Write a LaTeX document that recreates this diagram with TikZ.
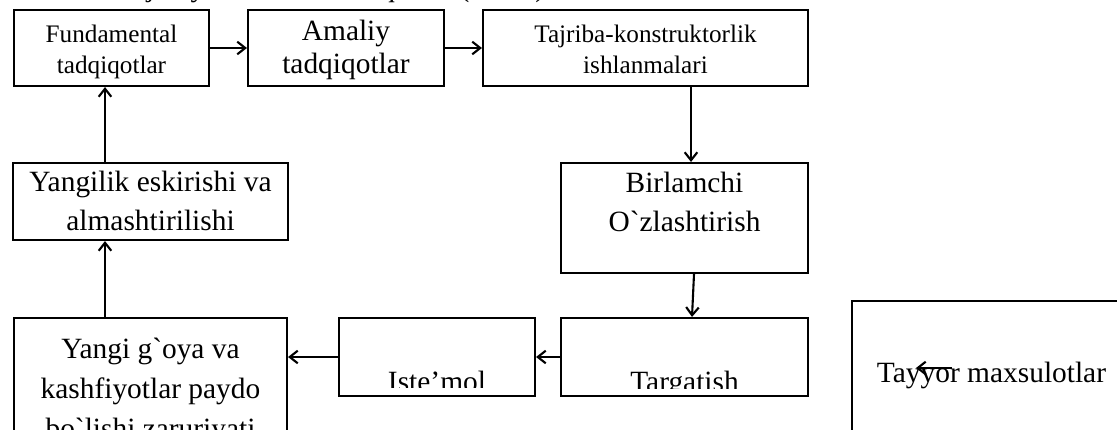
\documentclass[tikz,border=0pt]{standalone}
\usepackage{fontspec}
\setmainfont{Liberation Serif}[Ligatures=TeXOff]
\usetikzlibrary{arrows.meta,calc,fit}

\tikzset{
  box/.style={draw, line width=1pt, inner sep=0pt},
  bigtxt/.style={font=\fontsize{14}{18.5}\selectfont, align=center, inner sep=0pt, anchor=base},
  smalltxt/.style={font=\fontsize{12}{14.5}\selectfont, align=center, inner sep=0pt, anchor=base},
  link/.style={line width=1pt, -{Straight Barb[length=3.8pt,width=6pt]}},
}

\begin{document}
\begin{tikzpicture}[x=0.476pt,y=-0.476pt]
			%%%%% START %%%%%
			\useasboundingbox (0,0) rectangle (1117,429);
			\clip (0,0) rectangle (1117,429);
			
			% cut-off heading line
			\node[font=\fontsize{14}{18.5}\selectfont, inner sep=0pt, anchor=base west] (head) at (0,-3) {Innovatsion jarayonni ko`rib chiqamiz (2 ball)};
			
			% top row (text anchored at the last line)
			\node[box, fit={(14,10) (209,86)}] (fund) {};
			\node[smalltxt] (fundtxt) at (111.5,73) {Fundamental\\tadqiqotlar};
			
			\node[box, fit={(248,10) (444,86)}] (amal) {};
			\node[bigtxt, font=\fontsize{14}{15.7}\selectfont] (amaltxt) at (346,73) {Amaliy\\tadqiqotlar};
			
			\node[box, fit={(483,10) (808,86)}] (tajr) {};
			\node[smalltxt] (tajrtxt) at (645.5,73) {Tajriba-konstruktorlik\\ishlanmalari};
			
			% right column
			\node[box, fit={(561,163) (808,273)}] (birl) {};
			\node[bigtxt] (birltxt) at (684.5,231) {Birlamchi\\O`zlashtirish};
			
			\node[box, fit={(561,318) (808,396)}] (targ) {};
			\begin{scope}
				\clip (561,318) rectangle (808,388);
				\node[bigtxt] (targtxt) at (684.5,391) {Targatish};
			\end{scope}
			
			% bottom row
			\node[box, fit={(339,318) (535,396)}] (iste) {};
			\begin{scope}
				\clip (339,318) rectangle (535,387);
				\node[bigtxt] (istetxt) at (437,391) {Iste’mol};
			\end{scope}
			
			\node[box, fit={(14,318) (287,470)}] (yang) {};
			\node[bigtxt, font=\fontsize{14}{19}\selectfont] (yangtxt) at (150.5,438) {Yangi g`oya va\\kashfiyotlar paydo\\bo`lishi zaruriyati};
			
			% left column
			\node[box, fit={(13,163) (288,240)}] (yeni) {};
			\node[bigtxt] (yenitxt) at (150.5,230) {Yangilik eskirishi va\\almashtirilishi};
			
			% separate box
			\node[box, fit={(852,301) (1131,470)}] (tayy) {};
			\node[bigtxt] (tayytxt) at (991.5,382) {Tayyor maxsulotlar};
			\coordinate (stray1) at (952,368);
			\coordinate (stray2) at (916,368);
			
			% arrows
			\draw[link] (fund) -- (amal);
			\draw[link] (amal) -- (tajr);
			\draw[link] ($(tajr.south)+(45.5,0)$) -- ($(birl.north)+(6.5,0)$);
			\draw[link] ($(birl.south)+(9.5,0)$) -- ($(targ.north)+(7.5,0)$);
			\draw[link] (targ) -- (iste);
			\draw[link] (iste.west) -- (iste.west -| yang.east);
			\draw[link] ($(yang.north)+(-45.5,0)$) -- ($(yeni.south)+(-45.5,0)$);
			\draw[link] ($(yeni.north)+(-45.5,0)$) -- ($(fund.south)+(-6.5,0)$);
			\draw[link] (stray1) -- (stray2);
			
			%%%%% END %%%%%
\end{tikzpicture}
\end{document}
